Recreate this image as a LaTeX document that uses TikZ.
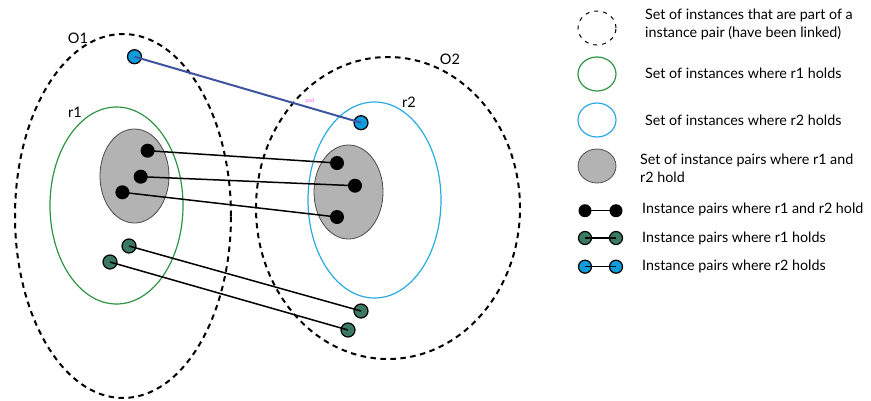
\documentclass[tikz,border=0pt]{standalone}
\usepackage{fontspec}
\setmainfont{Lato}
\usepackage{xcolor}
\definecolor{ronegreen}{HTML}{2E9444}
\definecolor{rtwoblue}{HTML}{2AAAE2}
\definecolor{pairgray}{HTML}{B3B3B3}
\definecolor{dotgreen}{HTML}{3B7A62}
\definecolor{dotblue}{HTML}{0E9CDA}
\definecolor{linkblue}{HTML}{3E54A0}
\definecolor{padpink}{HTML}{FF66FF}
\usetikzlibrary{shapes.geometric}
\tikzset{
  linkset/.style={ellipse,draw,line width=2pt,dash pattern=on 5.5pt off 4.5pt,inner sep=0pt,outer sep=0pt},
  roneset/.style={ellipse,draw=ronegreen,line width=1.2pt,inner sep=0pt,outer sep=0pt},
  rtwoset/.style={ellipse,draw=rtwoblue,line width=1.2pt,inner sep=0pt,outer sep=0pt},
  pairset/.style={ellipse,draw=black!70,fill=pairgray,line width=0.8pt,inner sep=0pt,outer sep=0pt},
  bothdot/.style={circle,fill=black,minimum size=14pt,inner sep=0pt},
  ronedot/.style={circle,draw,fill=dotgreen,line width=1.2pt,minimum size=14pt,inner sep=0pt},
  rtwodot/.style={circle,draw,fill=dotblue,line width=1.2pt,minimum size=14pt,inner sep=0pt},
  pairlink/.style={line width=1.5pt},
  setlabel/.style={font=\fontsize{14.5}{16}\selectfont,inner sep=0pt},
  keytext/.style={anchor=west,align=left,inner sep=0pt,font=\fontsize{14.3}{18}\selectfont},
}

\begin{document}
\begin{tikzpicture}[x=1pt,y=-1pt]
\useasboundingbox (0,0) rectangle (871,400);

\node[linkset,minimum width=216,minimum height=364] (o1) at (123,216){};
\node[linkset,minimum width=264,minimum height=302] (o2) at (388,208){};
\node[roneset,minimum width=133,minimum height=197] (r1) at (116.5,205.5){};
\node[rtwoset,minimum width=133,minimum height=196] (r2) at (374.5,200){};
\node[pairset,minimum width=69,minimum height=94] (p1) at (134.5,176){};
\node[pairset,minimum width=69,minimum height=94] (p2) at (348.5,192){};

\node[setlabel] (o1lab) at (78,38){O1};
\node[setlabel] (o2lab) at (450,59){O2};
\node[setlabel] (r1lab) at (75,112){r1};
\node[setlabel] (r2lab) at (409,102){r2};

\node[bothdot] (a1) at (147.6,150.7){};
\node[bothdot] (a2) at (140.7,176.7){};
\node[bothdot] (a3) at (122.4,192.3){};
\node[bothdot] (b1) at (337,163){};
\node[bothdot] (b2) at (355,185.7){};
\node[bothdot] (b3) at (337,217){};
\draw[pairlink](a1.center)--(b1.center);\draw[pairlink](a2.center)--(b2.center);\draw[pairlink](a3.center)--(b3.center);

\node[ronedot] (g1) at (129,246){};
\node[ronedot] (g2) at (110,262){};
\node[ronedot] (h1) at (361,311){};
\node[ronedot] (h2) at (348,330){};
\draw[pairlink](g1.center)--(h1.center);\draw[pairlink](g2.center)--(h2.center);

\node[rtwodot] (u1) at (134.5,56.7){};
\node[rtwodot] (u2) at (361,122.7){};
\draw[line width=2pt,linkblue](u1.center)--(u2.center);
\node[text=padpink,font=\fontsize{5.5}{6}\selectfont,inner sep=0pt] (pad) at (310,100.5){pad};

% key
\node[ellipse,draw,line width=1pt,dash pattern=on 4pt off 5pt,minimum width=38,minimum height=34,inner sep=0pt] (k1) at (597,28){};
\node[roneset,minimum width=38,minimum height=34] (k2) at (597,74){};
\node[rtwoset,minimum width=38,minimum height=34] (k3) at (597,120){};
\node[pairset,minimum width=38,minimum height=34] (k4) at (597,166){};
\node[bothdot,minimum size=13pt] (k5a) at (585,210.7){};
\node[bothdot,minimum size=13pt] (k5b) at (616,210.7){};
\draw[pairlink](k5a.center)--(k5b.center);
\node[ronedot,minimum size=13pt] (k6a) at (585,238){};
\node[ronedot,minimum size=13pt] (k6b) at (616,238){};
\draw[pairlink](k6a.center)--(k6b.center);
\node[rtwodot,minimum size=13pt] (k7a) at (585,266.7){};
\node[rtwodot,minimum size=13pt] (k7b) at (616,266.7){};
\draw[pairlink](k7a.center)--(k7b.center);

\node[keytext] (t1) at (645,24){Set of instances that are part of a\\instance pair (have been linked)};
\node[keytext] (t2) at (645,73){Set of instances where r1 holds};
\node[keytext] (t3) at (645,120){Set of instances where r2 holds};
\node[keytext] (t4) at (640,168.5){Set of instance pairs where r1 and\\r2 hold};
\node[keytext] (t5) at (642,209){Instance pairs where r1 and r2 hold};
\node[keytext] (t6) at (642,238){Instance pairs where r1 holds};
\node[keytext] (t7) at (642,266){Instance pairs where r2 holds};
\end{tikzpicture}
\end{document}
